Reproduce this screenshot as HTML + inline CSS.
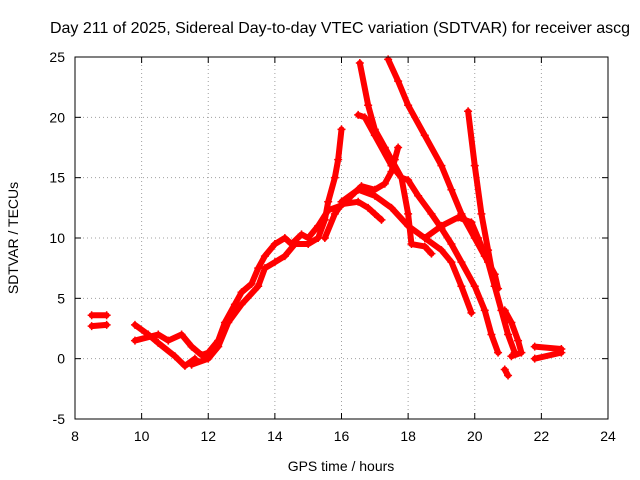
<!DOCTYPE html>
<html><head><meta charset="utf-8"><style>
body{margin:0;background:#fff}
svg{display:block;font-family:"Liberation Sans",sans-serif}
</style></head><body>
<svg id="c" width="640" height="480">
<rect width="640" height="480" fill="#fff"/>
<text x="340" y="33" font-size="16" text-anchor="middle">Day 211 of 2025, Sidereal Day-to-day VTEC variation (SDTVAR) for receiver ascg</text>
<text x="341" y="471" font-size="14" text-anchor="middle">GPS time / hours</text>
<text transform="translate(18,238) rotate(-90)" font-size="14" text-anchor="middle">SDTVAR / TECUs</text>
<g id="grid"></g><g id="series"></g><g id="axes"></g>
</svg>
<script>
const xTicks=[8,10,12,14,16,18,20,22,24];
const yTicks=[-5,0,5,10,15,20,25];
const track1=[[8.5,3.6],[8.95,3.6]];
const track2=[[8.5,2.7],[8.95,2.8]];
const track3=[[9.8,2.8],[10.2,2.0],[10.5,1.3],[11,0.2],[11.3,-0.6],[11.6,0]];
const track4=[[9.8,1.5],[10.5,2.0],[10.8,1.5],[11.2,2.0],[11.5,1.0],[11.8,0.3],[12,0.5],[12.3,1.5],[12.5,3],[12.8,4.5],[13,5.5],[13.3,6.2],[13.5,7.5],[13.7,8.5],[14,9.5],[14.3,10],[14.5,9.5],[14.8,10.3],[15,10],[15.3,11],[15.6,12.3],[16,12.7],[16.3,13.5],[16.6,14.3],[17,14],[17.3,14.5],[17.5,15.5],[17.6,16.5],[17.7,17.5]];
const track5=[[11.5,-0.5],[12,0],[12.3,1],[12.6,3],[13,4.5],[13.5,6],[13.7,7.5],[14,8],[14.3,8.5],[14.6,9.5],[15,9.5],[15.3,10],[15.5,11.5],[15.6,13],[15.8,15],[15.9,16.5],[16,19]];
const track6=[[15.5,10],[15.8,12],[16,12.8],[16.5,13],[16.8,12.5],[17,12],[17.2,11.5]];
const track7=[[16,13],[16.5,14],[17,13.5],[17.5,12.5],[18,11],[18.5,10],[19,9],[19.3,8],[19.6,6],[19.9,3.8]];
const track8=[[16.5,20.2],[16.7,20],[17,18.5],[17.5,16],[17.8,15],[18,14.8],[18.3,13.5],[18.7,12],[19,10.8],[19.3,9.5],[19.6,8],[20,6],[20.3,4],[20.5,2],[20.7,0.5]];
const track9=[[16.55,24.5],[16.8,21],[17,19],[17.3,17.5],[17.8,15],[18,12],[18.1,9.5],[18.5,9.3],[18.7,8.7]];
const track10=[[18.5,10],[19,11],[19.5,11.7],[19.9,11.3],[20.1,10],[20.4,8],[20.6,6],[20.8,4],[21,2],[21.2,0.5]];
const track11=[[17.4,24.8],[17.7,23],[18,21],[18.5,18.5],[19,16],[19.3,14],[19.6,12],[20,10],[20.3,8.5],[20.6,7],[20.7,5.8]];
const track12=[[19.8,20.5],[20,16],[20.2,12],[20.4,9],[20.6,6]];
const track13=[[20.9,4],[21.1,3],[21.3,1.5],[21.4,0.5],[21.1,0.2]];
const track14=[[20.9,-0.9],[21,-1.4]];
const track15=[[21.8,1],[22.6,0.8]];
const track16=[[21.8,0],[22.6,0.5]];
const tracks=[track1,track2,track3,track4,track5,track6,track7,track8,track9,track10,track11,track12,track13,track14,track15,track16];
const X0=75,X1=608,Y0=419,Y1=57;
const sx=v=>X0+(v-8)/(24-8)*(X1-X0);
const sy=v=>Y0-(v+5)/30*(Y0-Y1);
const NS="http://www.w3.org/2000/svg";
function mk(t,a,p){const e=document.createElementNS(NS,t);for(const k in a)e.setAttribute(k,a[k]);p.appendChild(e);return e;}
const grid=document.getElementById('grid'),axes=document.getElementById('axes'),ser=document.getElementById('series');
xTicks.forEach(t=>{const x=sx(t);
 if(t>8&&t<24){const g=mk('line',{x1:x,x2:x,y1:Y1,y2:Y0,stroke:'#a0a0a0','stroke-dasharray':'1,3'},grid);
 
 }
 mk('line',{x1:x,x2:x,y1:Y0,y2:Y0-6,stroke:'#000'},axes);mk('line',{x1:x,x2:x,y1:Y1,y2:Y1+6,stroke:'#000'},axes);
 const l=mk('text',{x:x,y:Y0+22,'font-size':14,'text-anchor':'middle'},axes);l.textContent=t;
 
 });
yTicks.forEach(t=>{const y=sy(t);
 if(t>-5&&t<25){const g=mk('line',{x1:X0,x2:X1,y1:y,y2:y,stroke:'#a0a0a0','stroke-dasharray':'1,3'},grid);
 
 }
 mk('line',{x1:X0,x2:X0+6,y1:y,y2:y,stroke:'#000'},axes);mk('line',{x1:X1,x2:X1-6,y1:y,y2:y,stroke:'#000'},axes);
 const l=mk('text',{x:X0-10,y:y+5,'font-size':14,'text-anchor':'end'},axes);l.textContent=t;
 
 });
const fr=mk('rect',{x:X0,y:Y1,width:X1-X0,height:Y0-Y1,fill:'none',stroke:'#000'},axes);


tracks.forEach((tr,i)=>{
 const pts=tr.map(p=>sx(p[0])+','+sy(p[1])).join(' ');
 const pl=mk('polyline',{points:pts,fill:'none',stroke:'#f00','stroke-width':6,'stroke-linejoin':'round','stroke-linecap':'round'},ser);
 
 
 tr.forEach(p=>{const x=sx(p[0]),y=sy(p[1]);
  const m=mk('path',{d:`M${x-4},${y}H${x+4}M${x},${y-4}V${y+4}`,stroke:'#f00','stroke-width':1.5},ser);
  
  });
});
</script>
</body></html>
